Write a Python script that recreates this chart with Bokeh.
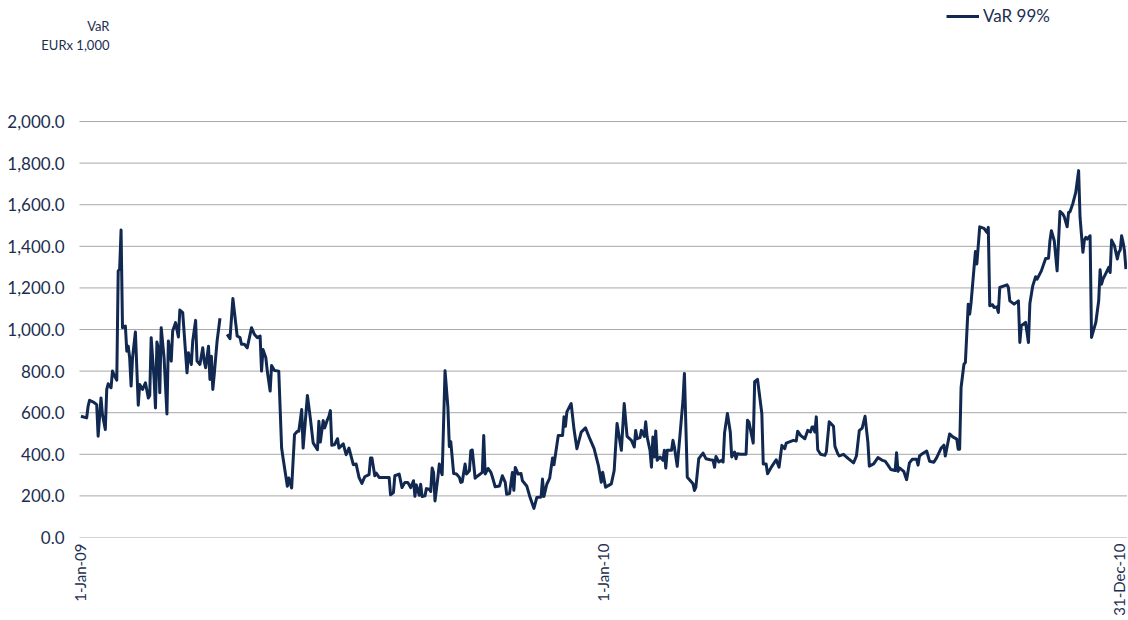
import numpy as np
import pandas as pd
from bokeh.plotting import figure
from bokeh.models import Range1d, FixedTicker, NumeralTickFormatter, Label, Legend, LegendItem
from bokeh.embed import file_html
from bokeh.resources import INLINE

NaN = float("nan")

# ---- data ----
# day offsets from 1-Jan-2009, VaR 99% in EUR x 1,000
days = [1, 5, 6, 7, 10, 12, 13, 15, 16, 18, 19, 20, 22, 23, 24, 26, 27, 28, 29, 30,
        32, 33, 34, 35, 36, 37, 39, 41, 42, 44, 46, 48, 49, 50, 52, 53, 54, 55, 56, 57,
        59, 61, 62, 64, 65, 67, 69, 70, 72, 75, 76, 78, 79, 81, 82, 84, 86, 87, 88, 90,
        91, 92, 93, 94, 96, 98, 100, 103, 105, 107, 108, 110, 112, 113, 115, 117, 120, 122, 124, 126,
        127, 128, 130, 131, 133, 134, 136, 139, 141, 142, 145, 146, 148, 150, 152, 153, 155, 156, 159, 161,
        163, 166, 167, 168, 170, 171, 173, 174, 175, 176, 178, 180, 181, 184, 186, 188, 191,
        193, 195, 197, 199, 202, 203, 204, 206, 207, 209, 214, 216, 217, 219, 220, 223, 225, 227, 229,
        231, 233, 234, 235, 237, 238, 239, 241, 242, 244, 245, 246, 247, 248, 250, 251, 252, 253, 255, 257,
        258, 259, 261, 263, 265, 266, 267, 269, 270, 272, 273, 274, 276, 278, 281, 282, 283, 285, 287, 288,
        290, 293, 295, 297, 298, 300, 302, 303, 304, 306, 308, 309, 312, 314, 317, 319, 322, 323, 324, 326,
        328, 330, 331, 334,
        337, 338, 339, 340, 343, 345, 347, 350, 353, 356, 359, 362, 364, 365, 367, 371, 373, 375, 378, 380,
        382, 385, 387, 388, 389, 391, 392, 394, 395, 396, 398, 399, 400, 401, 402, 403, 405, 407, 408, 409,
        410, 413, 414, 415, 417, 419, 421, 422, 424, 426, 428, 429, 430, 432, 435, 437, 440, 442, 443, 444,
        446, 448, 449, 450, 452, 454, 455, 457, 458, 459, 461, 465, 466, 467, 470, 471, 473, 476, 477, 479,
        480, 483, 486, 488, 490, 492, 493, 498, 500, 501, 503, 506, 508, 510, 511, 512, 513, 514, 515, 517,
        520, 521, 523, 526, 527, 529,
        530, 533, 535, 537, 540, 542, 544, 546, 548, 550, 551, 554, 557, 560, 562, 564, 566, 569, 570, 571,
        572, 575, 577, 579, 581, 584, 585, 586, 588, 591, 593, 596, 598, 601, 603, 604, 607, 609, 612, 613,
        614, 615, 617, 618, 620, 621, 622, 625, 626, 628, 631, 633, 634, 635, 637, 638, 640, 641, 642, 645,
        647, 648, 649, 652, 655, 656, 657, 660, 662, 663, 665, 667, 668, 671, 674, 676, 677, 678, 680, 682,
        684, 686, 687, 689, 690, 691, 693, 695, 697, 698, 700, 701, 702, 703, 705, 706, 709, 711, 712, 713,
        714, 716, 718, 719, 720, 722, 724, 725, 726, 727, 728, 729, 730]

var99 = [583, 575, 631, 660, 650, 639, 487, 671, 591, 519, 712, 739, 720, 800, 784, 757, 1282, 1290, 1478, 1009,
         1017, 896, 920, 864, 728, 864, 988, 636, 736, 712, 744, 671, 683, 961, 768, 623, 940, 912, 696, 1009,
         864, 594, 945, 848, 993, 1033, 964, 1094, 1081, 792, 888, 832, 945, 1044, 848, 832, 912, 848, 816, 920,
         760, 872, 712, 784, 945, 1054, NaN, 977, 956, 1149, 1089, 969, 961, 929, 929, 912, 1009, 977, 961, 969,
         800, 904, 864, 800, 704, 827, 803, 800, 430, 382, 246, 286, 238, 495, 511, 511, 615, 430, 683, 575,
         455, 422, 559, 459, 562, 527, 567, 583, 610, 443, 447, 475, 430, 450, 398, 430, 350,
         353, 289, 260, 292, 302, 382, 382, 297, 310, 289, 289, 289, 205, 216, 297, 305, 240, 265, 265,
         240, 273, 198, 253, 203, 256, 197, 200, 235, 232, 221, 334, 313, 176, 289, 353, 324, 302, 802, 627,
         437, 461, 308, 305, 289, 265, 268, 353, 305, 321, 418, 421, 285, 297, 313, 490, 305, 332, 313, 292,
         244, 248, 297, 265, 208, 211, 313, 227, 337, 305, 308, 273, 248, 200, 140, 192, 195, 281, 197, 256,
         285, 382, 350, 490,
         491, 580, 535, 604, 644, 519, 427, 507, 527, 475, 427, 346, 266, 314, 242, 258, 322, 548, 419, 644,
         486, 467, 435, 515, 475, 480, 515, 486, 556, 483, 419, 338, 483, 387, 512, 371, 387, 371, 419, 334,
         419, 419, 467, 435, 342, 499, 660, 789, 290, 274, 258, 226, 242, 379, 406, 379, 374, 371, 338, 390,
         363, 371, 363, 503, 596, 507, 387, 411, 379, 403, 400, 400, 564, 556, 454, 749, 760, 596, 354, 354,
         306, 342, 374, 338, 443, 427, 454, 467, 464, 511, 491, 475, 515, 507, 531, 531, 507, 580, 422, 400,
         395, 411, 556, 535, 438, 403,
         392, 400, 387, 376, 359, 392, 514, 526, 583, 457, 343, 354, 384, 371, 367, 348, 327, 322, 408, 318,
         335, 318, 278, 359, 376, 376, 348, 392, 403, 416, 367, 362, 384, 429, 444, 392, 498, 485, 473, 424,
         424, 721, 833, 841, 1122, 1074, 1130, 1375, 1315, 1494, 1486, 1467, 1491, 1114, 1119, 1106, 1109, 1082, 1202, 1210,
         1215, 1202, 1138, 1122, 1138, 938, 1018, 1034, 938, 1125, 1210, 1254, 1242, 1282, 1342, 1343, 1427, 1475, 1427, 1282,
         1568, 1555, 1542, 1494, 1563, 1566, 1606, 1659, 1764, 1539, 1371, 1430, 1443, 1435, 1451, 962, 1034, 1138, 1287, 1218,
         1242, 1270, 1299, 1274, 1430, 1403, 1339, 1371, 1382, 1451, 1419, 1379, 1290]

y_ticks = [0, 200, 400, 600, 800, 1000, 1200, 1400, 1600, 1800, 2000]
x_tick_dates = ["2009-01-01", "2010-01-01", "2010-12-31"]
x_tick_labels = ["1-Jan-09", "1-Jan-10", "31-Dec-10"]
series_name = "VaR 99%"
unit_title = "VaR"
unit_subtitle = "EURx 1,000"

# ---- style ----
FONT = "Lato"
NAVY = "#112850"
TEXT = "#1c2e50"
GRID = "#a8a8a8"
DAY_MS = 86400000.0


def ms(ts):
    return pd.Timestamp(ts).value / 1e6


start = pd.Timestamp("2009-01-01")
dates = start + pd.to_timedelta(days, unit="D")
x0 = ms(start)
x_lo = x0 - 29.3 * DAY_MS   # blank margin left of the first date (room for the unit title)
x_hi = x0 + 731.1 * DAY_MS

p = figure(width=1127, height=619, x_axis_type="datetime",
           output_backend="svg", toolbar_location=None,
           x_range=Range1d(x_lo, x_hi), y_range=Range1d(0, 2582))
p.min_border_left = 37
p.min_border_right = 0
p.min_border_top = 0
p.min_border_bottom = 82
p.outline_line_color = None

# horizontal gridlines, spanning the dated period only
p.segment(x0=[x0] * len(y_ticks), x1=[x_hi] * len(y_ticks), y0=y_ticks, y1=y_ticks,
          line_color=GRID, line_width=1)

r = p.line(dates, var99, line_color=NAVY, line_width=3, line_join="round")

p.yaxis.ticker = FixedTicker(ticks=y_ticks)
p.yaxis.formatter = NumeralTickFormatter(format="0,0.0")
p.yaxis.axis_line_color = None
p.yaxis.major_tick_line_color = None
p.yaxis.minor_tick_line_color = None
p.yaxis.major_tick_out = 0
p.yaxis.major_tick_in = 0
p.yaxis.major_label_standoff = -27
p.yaxis.major_label_text_font = FONT
p.yaxis.major_label_text_font_size = "17px"
p.yaxis.major_label_text_color = TEXT

xt = [ms(d) for d in x_tick_dates]
p.xaxis.ticker = FixedTicker(ticks=xt)
p.xaxis.major_label_overrides = {t: lab for t, lab in zip(xt, x_tick_labels)}
p.xaxis.axis_line_color = None
p.xaxis.major_tick_line_color = None
p.xaxis.minor_tick_line_color = None
p.xaxis.major_tick_out = 0
p.xaxis.major_tick_in = 0
p.xaxis.major_label_orientation = np.pi / 2
p.xaxis.major_label_standoff = 6
p.xaxis.major_label_text_font = FONT
p.xaxis.major_label_text_font_size = "15px"
p.xaxis.major_label_text_color = TEXT

p.grid.visible = False

# unit title, top-left, right-aligned
tx = x0 + 20.9 * DAY_MS
for txt, ty in zip([unit_title, unit_subtitle], [2457, 2370]):
    p.add_layout(Label(x=tx, y=ty, text=txt, text_align="right", text_baseline="middle",
                       text_font=FONT, text_font_size="13px", text_color=TEXT))

legend = Legend(items=[LegendItem(label=series_name, renderers=[r])], location=(909, 511))
legend.glyph_width = 33
legend.glyph_height = 20
legend.label_height = 20
legend.label_standoff = 4
legend.padding = 0
legend.margin = 0
legend.spacing = 0
legend.background_fill_alpha = 0
legend.border_line_alpha = 0
legend.label_text_font = FONT
legend.label_text_font_size = "17px"
legend.label_text_color = TEXT
p.add_layout(legend)

open("out.html", "w").write(file_html(p, INLINE))
